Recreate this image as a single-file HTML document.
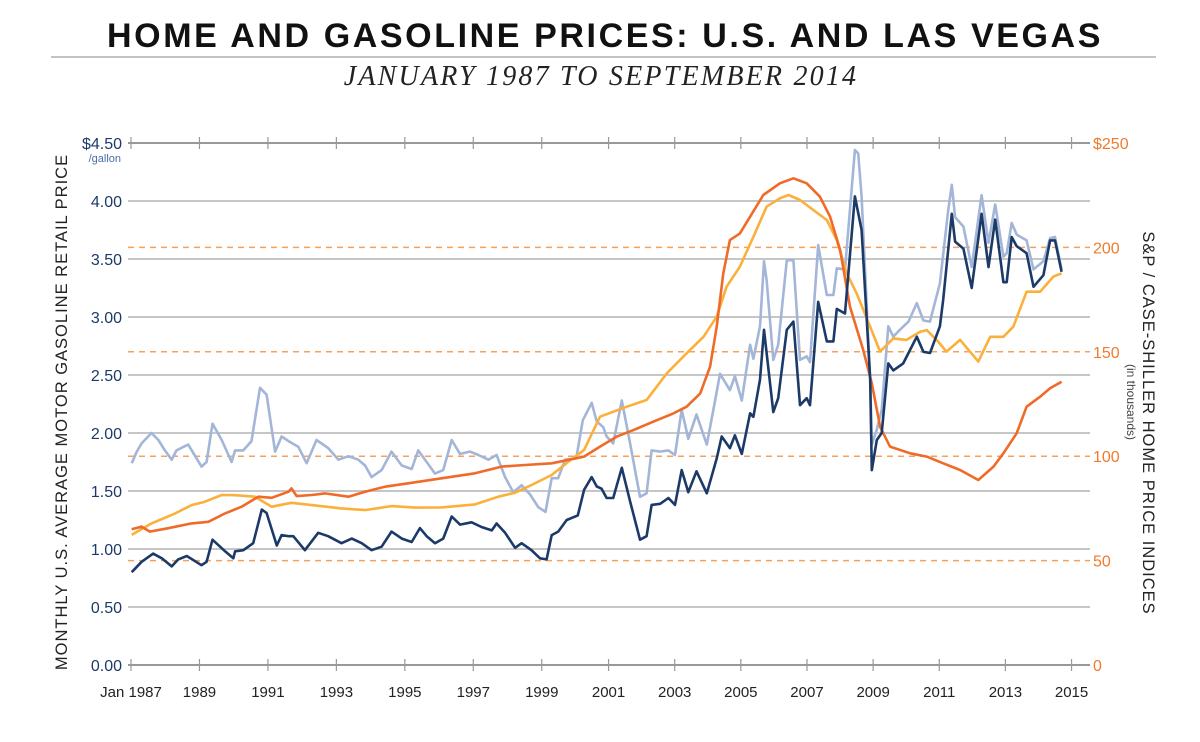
<!DOCTYPE html>
<html><head><meta charset="utf-8"><style>
body{margin:0;background:#fff;}
svg text{font-family:"Liberation Sans",sans-serif;}
</style></head><body>
<svg id="chart" width="1200" height="737" viewBox="0 0 1200 737">
<text x="605" y="47" text-anchor="middle" font-size="34" font-weight="bold" letter-spacing="2.6" fill="#111">HOME AND GASOLINE PRICES: U.S. AND LAS VEGAS</text>
<line x1="51" y1="57" x2="1156" y2="57" stroke="#888" stroke-width="1"/>
<text x="601" y="85" text-anchor="middle" font-size="28" font-style="italic" letter-spacing="2.2" fill="#222" style="font-family:'Liberation Serif',serif">JANUARY 1987 TO SEPTEMBER 2014</text>
<g id="grid"></g><g id="axes"></g><g id="series"></g>
<text transform="translate(67,412) rotate(-90)" text-anchor="middle" font-size="16.5" letter-spacing="1" fill="#222">MONTHLY U.S. AVERAGE MOTOR GASOLINE RETAIL PRICE</text>
<text transform="translate(1143,423) rotate(90)" text-anchor="middle" font-size="16.5" letter-spacing="1" fill="#222">S&amp;P / CASE-SHILLER HOME PRICE INDICES</text>
<text transform="translate(1127,402) rotate(90)" text-anchor="middle" font-size="12" fill="#444">(in thousands)</text>
<text x="121" y="162" text-anchor="end" font-size="11" fill="#4a6fa5">/gallon</text>
</svg>
<script>
const gasTicks=[0,0.5,1,1.5,2,2.5,3,3.5,4,4.5];
const gasTickLabels=["0.00","0.50","1.00","1.50","2.00","2.50","3.00","3.50","4.00","$4.50"];
const idxTicks=[0,50,100,150,200,250];
const idxTickLabels=["0","50","100","150","200","$250"];
const yearTicks=[1987,1989,1991,1993,1995,1997,1999,2001,2003,2005,2007,2009,2011,2013,2015];
const yearTickLabels=["Jan 1987","1989","1991","1993","1995","1997","1999","2001","2003","2005","2007","2009","2011","2013","2015"];

const usGasT=[1987.02,1987.31,1987.65,1987.90,1988.19,1988.38,1988.63,1989.06,1989.21,1989.38,1989.75,1989.99,1990.04,1990.28,1990.57,1990.82,1990.96,1991.26,1991.40,1991.60,1991.74,1992.08,1992.47,1992.76,1993.15,1993.45,1993.74,1994.03,1994.32,1994.61,1994.91,1995.20,1995.44,1995.64,1995.88,1996.12,1996.37,1996.61,1996.95,1997.24,1997.54,1997.68,1997.93,1998.22,1998.41,1998.70,1998.95,1999.14,1999.29,1999.48,1999.73,2000.07,2000.26,2000.49,2000.64,2000.79,2000.94,2001.14,2001.40,2001.65,2001.95,2002.15,2002.30,2002.56,2002.81,2003.01,2003.21,2003.41,2003.66,2003.97,2004.27,2004.42,2004.67,2004.82,2005.03,2005.28,2005.38,2005.58,2005.70,2005.98,2006.13,2006.39,2006.59,2006.79,2006.99,2007.09,2007.34,2007.60,2007.80,2007.90,2008.15,2008.45,2008.65,2008.91,2008.96,2009.11,2009.26,2009.46,2009.61,2009.91,2010.07,2010.32,2010.52,2010.72,2011.02,2011.12,2011.38,2011.48,2011.73,2011.98,2012.28,2012.49,2012.69,2012.94,2013.04,2013.19,2013.34,2013.64,2013.85,2014.15,2014.35,2014.50,2014.70];
const usGasV=[0.80,0.89,0.96,0.92,0.85,0.91,0.94,0.86,0.89,1.08,0.98,0.92,0.98,0.99,1.05,1.34,1.31,1.03,1.12,1.11,1.11,0.99,1.14,1.11,1.05,1.09,1.05,0.99,1.02,1.15,1.09,1.06,1.18,1.11,1.05,1.09,1.28,1.21,1.23,1.19,1.16,1.22,1.14,1.01,1.05,0.99,0.92,0.91,1.12,1.15,1.25,1.29,1.51,1.62,1.54,1.52,1.44,1.44,1.70,1.41,1.08,1.11,1.38,1.39,1.44,1.38,1.68,1.49,1.67,1.48,1.78,1.97,1.87,1.98,1.82,2.17,2.14,2.46,2.89,2.18,2.30,2.89,2.96,2.24,2.30,2.24,3.13,2.79,2.79,3.07,3.03,4.04,3.75,2.46,1.68,1.94,2.00,2.60,2.54,2.60,2.69,2.83,2.70,2.69,2.92,3.15,3.89,3.65,3.59,3.25,3.89,3.43,3.84,3.30,3.30,3.69,3.61,3.55,3.26,3.36,3.66,3.66,3.39];

const lvGasT=[1987.02,1987.17,1987.31,1987.60,1987.80,1987.99,1988.19,1988.33,1988.53,1988.67,1989.06,1989.21,1989.38,1989.65,1989.94,1990.04,1990.28,1990.52,1990.77,1990.96,1991.21,1991.40,1991.60,1991.89,1992.13,1992.42,1992.76,1993.06,1993.35,1993.64,1993.84,1994.03,1994.32,1994.61,1994.91,1995.20,1995.39,1995.64,1995.88,1996.12,1996.37,1996.61,1996.90,1997.15,1997.44,1997.68,1997.93,1998.17,1998.41,1998.66,1998.90,1999.11,1999.29,1999.48,1999.68,2000.02,2000.22,2000.49,2000.64,2000.84,2000.94,2001.14,2001.40,2001.65,2001.95,2002.15,2002.30,2002.56,2002.81,2003.01,2003.21,2003.41,2003.66,2003.97,2004.22,2004.37,2004.67,2004.82,2005.03,2005.28,2005.38,2005.58,2005.70,2005.78,2005.98,2006.13,2006.39,2006.59,2006.79,2006.99,2007.09,2007.34,2007.60,2007.80,2007.90,2008.15,2008.45,2008.55,2008.65,2008.91,2008.96,2009.11,2009.26,2009.46,2009.61,2009.81,2010.07,2010.32,2010.52,2010.72,2011.02,2011.27,2011.38,2011.48,2011.73,2011.98,2012.28,2012.49,2012.69,2012.94,2013.04,2013.19,2013.34,2013.64,2013.85,2014.15,2014.35,2014.50,2014.70];
const lvGasV=[1.74,1.84,1.91,2.00,1.94,1.85,1.77,1.85,1.88,1.90,1.71,1.75,2.08,1.94,1.75,1.85,1.85,1.93,2.39,2.33,1.84,1.97,1.93,1.88,1.74,1.94,1.87,1.77,1.80,1.77,1.72,1.62,1.68,1.84,1.72,1.69,1.85,1.75,1.65,1.68,1.94,1.82,1.84,1.81,1.77,1.81,1.62,1.49,1.55,1.47,1.36,1.32,1.61,1.61,1.77,1.78,2.11,2.26,2.10,2.05,1.97,1.91,2.28,1.91,1.45,1.48,1.85,1.84,1.85,1.81,2.20,1.95,2.16,1.90,2.28,2.51,2.37,2.49,2.28,2.76,2.64,2.92,3.48,3.32,2.63,2.76,3.49,3.49,2.63,2.66,2.61,3.62,3.19,3.19,3.42,3.41,4.44,4.41,4.04,2.46,1.90,2.03,2.20,2.92,2.83,2.89,2.96,3.12,2.97,2.96,3.29,3.92,4.14,3.86,3.78,3.43,4.05,3.64,3.97,3.52,3.55,3.81,3.71,3.66,3.41,3.48,3.68,3.69,3.41];

const usHomeT=[1987.02,1987.60,1988.29,1988.77,1989.16,1989.65,1990.04,1990.62,1991.11,1991.69,1992.28,1993.15,1993.84,1994.61,1995.29,1996.07,1997.05,1997.73,1998.22,1998.70,1999.29,1999.78,2000.26,2000.74,2001.55,2002.15,2002.76,2003.36,2003.87,2004.27,2004.57,2004.97,2005.38,2005.78,2006.18,2006.44,2006.79,2007.19,2007.60,2007.90,2008.20,2008.50,2008.91,2009.21,2009.61,2010.01,2010.42,2010.62,2010.92,2011.22,2011.63,2012.18,2012.54,2012.94,2013.24,2013.64,2014.05,2014.45,2014.70];
const usHomeV=[62.3,67.8,72.6,76.6,78.2,81.4,81.3,80.6,75.8,77.7,76.6,75.0,74.2,76.1,75.4,75.5,76.9,80.6,82.5,86.2,91.0,97.4,103.0,118.9,123.7,126.9,139.7,149.3,157.2,166.8,181.2,190.8,205.1,219.5,223.5,225.1,222.7,217.9,213.1,203.5,187.6,178.0,162.0,150.1,156.4,155.7,159.6,160.4,155.7,150.1,155.7,145.3,157.2,157.2,162.0,178.8,178.8,186.0,187.6];

const lvHomeT=[1987.02,1987.31,1987.55,1988.09,1988.77,1989.26,1989.75,1990.23,1990.72,1991.11,1991.60,1991.69,1991.84,1992.28,1992.67,1993.35,1993.84,1994.42,1995.10,1996.07,1997.05,1997.83,1998.51,1999.29,2000.26,2000.74,2001.25,2001.75,2002.35,2002.96,2003.36,2003.77,2004.07,2004.27,2004.47,2004.67,2004.97,2005.28,2005.68,2006.18,2006.59,2006.99,2007.39,2007.70,2008.00,2008.30,2008.70,2008.96,2009.21,2009.51,2010.12,2010.62,2011.12,2011.63,2012.18,2012.64,2012.94,2013.34,2013.64,2014.05,2014.35,2014.70];
const lvHomeV=[65.0,66.3,63.9,65.5,67.8,68.6,72.6,75.8,80.6,80.1,83.0,84.6,80.9,81.4,82.2,80.6,83.0,85.4,87.0,89.4,91.8,95.0,95.8,96.6,99.8,104.6,109.4,112.5,116.5,120.5,123.7,130.1,142.9,162.0,187.6,203.5,206.7,214.7,225.1,230.7,233.1,230.7,224.3,214.7,198.8,171.6,150.9,134.9,114.1,104.6,101.4,99.8,96.6,93.4,88.6,95.0,101.4,111.0,123.7,128.5,132.5,135.7];

const NS="http://www.w3.org/2000/svg";
function xS(t){return t<2000?131+(t-1987)*34.23:575.5+(t-2000)*33.07;}
function yGas(v){return 665-v*116;}
function yIdx(v){return 665-v*522/250;}
function mk(tag,attrs,parent){const e=document.createElementNS(NS,tag);for(const k in attrs)e.setAttribute(k,attrs[k]);parent.appendChild(e);return e;}
const grid=document.getElementById('grid'),axes=document.getElementById('axes'),ser=document.getElementById('series');
const X0=128,X1=1090;
gasTicks.forEach((v,i)=>{
  const y=yGas(v);
  const l=mk('line',{x1:X0,y1:y,x2:X1,y2:y,stroke:(i==0||i==gasTicks.length-1)?'#999':'#c6c6c6','stroke-width':2},grid);
  
  
  const t=mk('text',{x:122,y:y+6,'text-anchor':'end','font-size':16,fill:'#1c3a68'},axes);
  t.textContent=gasTickLabels[i];
  
  
});
idxTicks.forEach((v,i)=>{
  const y=yIdx(v);
  if(v>0&&v<250){
    const d=mk('line',{x1:X0,y1:y,x2:1090,y2:y,stroke:'#f5a15e','stroke-width':1.5,'stroke-dasharray':'6,5'},grid);
    
    
  }
  const t=mk('text',{x:1093,y:y+6,'font-size':16,fill:'#f07b2c'},axes);
  t.textContent=idxTickLabels[i];
  
  
});
yearTicks.forEach((yr,i)=>{
  const x=xS(yr);
  [yGas(0),yGas(4.5)].forEach(y=>{
    const tk=mk('line',{x1:x,y1:y-6,x2:x,y2:y+6,stroke:'#999','stroke-width':1.2},axes);
    
    
  });
  const t=mk('text',{x:x,y:697,'text-anchor':'middle','font-size':15,fill:'#222'},axes);
  t.textContent=yearTickLabels[i];
  
  
});
function line(T,V,yf,color,w,name){
  const d=T.map((t,i)=>(i?'L':'M')+xS(t).toFixed(1)+','+yf(V[i]).toFixed(1)).join('');
  const p=mk('path',{d:d,fill:'none',stroke:color,'stroke-width':w,'stroke-linejoin':'round'},ser);
  
  
}
line(lvGasT,lvGasV,yGas,'#a3b6d8',2.6,'las-vegas-gas-line');
line(usHomeT,usHomeV,yIdx,'#fbb03b',2.6,'us-home-price-line');
line(lvHomeT,lvHomeV,yIdx,'#f06a28',2.6,'las-vegas-home-price-line');
line(usGasT,usGasV,yGas,'#1c3a68',2.6,'us-gas-line');
</script>
</body></html>
